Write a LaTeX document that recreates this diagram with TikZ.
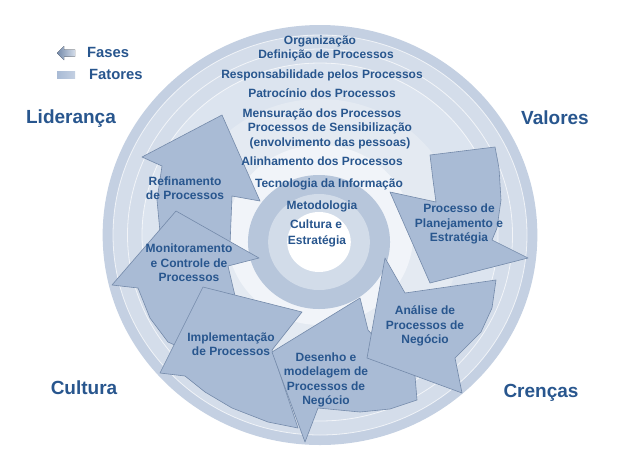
\documentclass[tikz,border=0pt]{standalone}
\usepackage{fontspec}
\setmainfont{Liberation Sans}
\usepackage{xcolor}
\definecolor{labelblue}{RGB}{40,86,142}
\definecolor{phasefill}{RGB}{169,187,213}
\definecolor{phaseline}{RGB}{116,138,170}
\definecolor{ringA}{RGB}{196,208,226}
\definecolor{ringB}{RGB}{212,221,234}
\definecolor{ringC}{RGB}{220,228,239}
\definecolor{ringD}{RGB}{228,234,242}
\definecolor{ringE}{RGB}{241,244,249}
\definecolor{coredark}{RGB}{183,198,219}
\definecolor{corepale}{RGB}{210,220,233}

\begin{document}
\begin{tikzpicture}[x=1pt, y=-1pt,
    phase/.style={fill=phasefill, draw=phaseline, line width=0.6pt, line join=round},
    factor/.style={text=labelblue, font=\bfseries\fontsize{12}{14.5}\selectfont, inner sep=0pt},
    phaselabel/.style={text=labelblue, font=\bfseries\fontsize{12}{14.5}\selectfont, align=center, inner sep=0pt},
    value/.style={text=labelblue, font=\bfseries\fontsize{19}{22}\selectfont, inner sep=0pt},
    legendtext/.style={text=labelblue, font=\bfseries\fontsize{14.8}{17}\selectfont, anchor=west, inner sep=0pt}
]
\useasboundingbox (0,0) rectangle (631,459);
\fill[white] (0,0) rectangle (631,459);

% Fatores (aneis)
\coordinate (ctr) at (320,235);
\coordinate (core) at (319,242);
\foreach \r/\col in {210/ringA, 200/ringB, 172/ringC, 136/ringD, 90/ringE}
  \fill[\col] (ctr) ellipse [x radius={1.035*\r*1pt}, y radius={\r*1pt}];
\foreach \r in {200, 186, 172}
  \draw[white, line width=0.8pt, opacity=0.7] (ctr) ellipse [x radius={1.035*\r*1pt}, y radius={\r*1pt}];
\foreach \r/\col in {67/coredark, 48/corepale, 30/white}
  \fill[\col] (core) ellipse [x radius={1.06*\r*1pt}, y radius={\r*1pt}];

% Fases (setas)
% Refinamento de Processos
\filldraw[phase] (222,115) -- (260,201) -- (232,196) -- (230,245) -- (190,252) -- (160,232) -- (157,200) -- (162,166) -- (142,157) -- cycle;
% Monitoramento e Controle
\filldraw[phase] (176,211) -- (259,258) -- (228,266) -- (236,300) -- (215,330) -- (190,352) -- (168,342) -- (150,318) -- (138,288) -- (112,285) -- cycle;
% Implementacao
\filldraw[phase] (203,287) -- (302,312) -- (272,350) -- (298,428) -- (268,422) -- (232,408) -- (205,392) -- (185,376) -- (160,373) -- cycle;
% Desenho e modelagem
\filldraw[phase] (360,298) -- (368,330) -- (395,360) -- (415,376) -- (417,400) -- (390,409) -- (360,412) -- (318,408) -- (305,442) -- (272,352) -- cycle;
% Analise
\filldraw[phase] (385,258) -- (405,293) -- (496,280) -- (492,308) -- (481,332) -- (455,358) -- (462,393) -- (367,358) -- cycle;
% Planejamento e Estrategia
\filldraw[phase] (430,155) -- (495,147) -- (499,168) -- (501,200) -- (497,228) -- (492,240) -- (528,258) -- (430,283) -- (390,192) -- (436,202) -- (433,180) -- cycle;

% Legenda
\fill[left color=phaseline, right color=ringB] (57,53) -- (64,46) -- (64,49.5) -- (75,49.5) -- (75,56.5) -- (64,56.5) -- (64,60) -- cycle;
\node[legendtext] (fases) at (87,52) {Fases};
\fill[left color=phasefill, right color=ringA] (57,71) rectangle (75,78);
\node[legendtext] (fatores) at (89,74) {Fatores};

% Valores nos cantos
\node[value] (lideranca) at (71,119) {Liderança};
\node[value] (valores) at (555,118) {Valores};
\node[value] (cultura) at (84,388) {Cultura};
\node[value] (crencas) at (541,393) {Crenças};

% Textos dos fatores
\node[factor] (org) at (320,41) {Organização};
\node[factor] (defproc) at (326,55) {Definição de Processos};
\node[factor] (resp) at (322,75) {Responsabilidade pelos Processos};
\node[factor] (patroc) at (322,93) {Patrocínio dos Processos};
\node[factor] (mens) at (322,114) {Mensuração dos Processos};
\node[factor] (sensib) at (330,128) {Processos de Sensibilização};
\node[factor] (envolv) at (330,143) {(envolvimento das pessoas)};
\node[factor] (alinh) at (322,161) {Alinhamento dos Processos};
\node[factor] (tecno) at (329,184) {Tecnologia da Informação};
\node[factor] (metod) at (322,206) {Metodologia};
\node[factor] (cult) at (316,224) {Cultura e};
\node[factor] (estr) at (317,241) {Estratégia};

% Textos das fases
\node[phaselabel] (refin) at (185,188) {Refinamento\\de Processos};
\node[phaselabel] (monit) at (189,263) {Monitoramento\\e Controle de\\Processos};
\node[phaselabel] (implem) at (231,344) {Implementação\\de Processos};
\node[phaselabel] (desenho) at (326,380) {Desenho e\\modelagem de\\Processos de\\Negócio};
\node[phaselabel] (analise) at (425,326) {Análise de\\Processos de\\Negócio};
\node[phaselabel] (planej) at (459,224) {Processo de\\Planejamento e\\Estratégia};

\end{tikzpicture}
\end{document}
